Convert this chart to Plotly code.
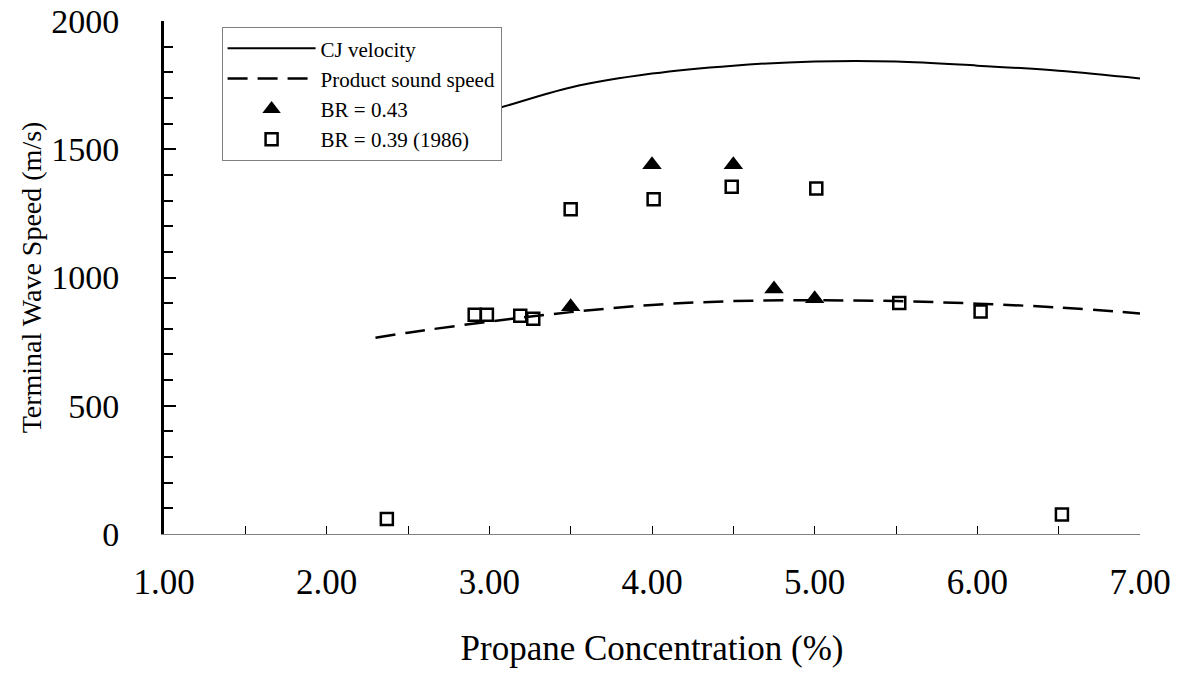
import plotly.graph_objects as go

# Data
cj_x = [2.3, 2.5, 3.0, 3.5, 4.0, 4.5, 5.0, 5.5, 6.0, 6.5, 7.0]
cj_y = [1535, 1570, 1650, 1741, 1795, 1826, 1842, 1842, 1826, 1806, 1776]

sound_x = [2.3, 2.5, 3.0, 3.5, 4.0, 4.5, 5.0, 5.5, 6.0, 6.5, 7.0]
sound_y = [765, 785, 828, 865, 893, 908, 911, 908, 898, 883, 860]

br043_x = [3.5, 4.0, 4.5, 4.75, 5.0]
br043_y = [886, 1440, 1440, 955, 917]

br039_x = [2.37, 2.91, 2.985, 3.19, 3.27, 3.50, 4.01, 4.49, 5.01, 5.52, 6.02, 6.52]
br039_y = [58, 855, 855, 851, 839, 1266, 1305, 1354, 1347, 901, 867, 76]

x_ticks = [1, 2, 3, 4, 5, 6, 7]
x_ticklabels = ["1.00", "2.00", "3.00", "4.00", "5.00", "6.00", "7.00"]
y_ticks = [0, 500, 1000, 1500, 2000]

FONT = "Liberation Serif"

fig = go.Figure()
fig.add_trace(go.Scatter(x=cj_x, y=cj_y, mode="lines", name="CJ velocity",
                         line=dict(color="black", width=2, shape="spline")))
fig.add_trace(go.Scatter(x=sound_x, y=sound_y, mode="lines", name="Product sound speed",
                         line=dict(color="black", width=2.5, dash="20px,10px", shape="spline")))
fig.add_trace(go.Scatter(x=br043_x, y=br043_y, mode="markers", name="BR = 0.43",
                         marker=dict(symbol="triangle-up", size=17, color="black",
                                     line=dict(width=0))))
fig.add_trace(go.Scatter(x=br039_x, y=br039_y, mode="markers", name="BR = 0.39 (1986)",
                         marker=dict(symbol="square-open", size=12, color="black",
                                     line=dict(width=2.5, color="black"))))

fig.update_layout(
    width=1186, height=674,
    margin=dict(l=164, r=46, t=21, b=140, autoexpand=False),
    paper_bgcolor="white", plot_bgcolor="white",
    font=dict(family=FONT, color="black", size=28),
    showlegend=True,
    legend=dict(x=0.059, y=0.988, xanchor="left", yanchor="top",
                bgcolor="white", bordercolor="#808080", borderwidth=1,
                font=dict(family=FONT, size=21, color="black"),
                itemwidth=88, tracegroupgap=0),
    xaxis=dict(range=[1, 7], tickvals=x_ticks, ticktext=x_ticklabels,
               ticks="inside", ticklen=8, tickwidth=1, tickcolor="black",
               showline=True, linecolor="#808080", linewidth=1,
               showgrid=False, zeroline=False, automargin=False,
               minor=dict(dtick=0.5, ticks="inside", ticklen=8, tickwidth=1, tickcolor="black"),
               ticklabelstandoff=17, ticklabeloverflow="allow",
               tickfont=dict(family=FONT, size=35),
               title=dict(text="Propane Concentration (%)", font=dict(family=FONT, size=35),
                          standoff=34)),
    yaxis=dict(range=[0, 2000], tickvals=y_ticks,
               ticks="inside", ticklen=12, tickwidth=2, tickcolor="black",
               showline=True, linecolor="black", linewidth=3,
               showgrid=False, zeroline=False, automargin=False,
               minor=dict(dtick=100, ticks="inside", ticklen=9, tickwidth=2, tickcolor="black"),
               ticklabelstandoff=35, ticklabeloverflow="allow",
               tickfont=dict(family=FONT, size=34),
               title=dict(text="Terminal Wave Speed (m/s)", font=dict(family=FONT, size=28),
                          standoff=2)),
)

fig.write_html("out.html")
